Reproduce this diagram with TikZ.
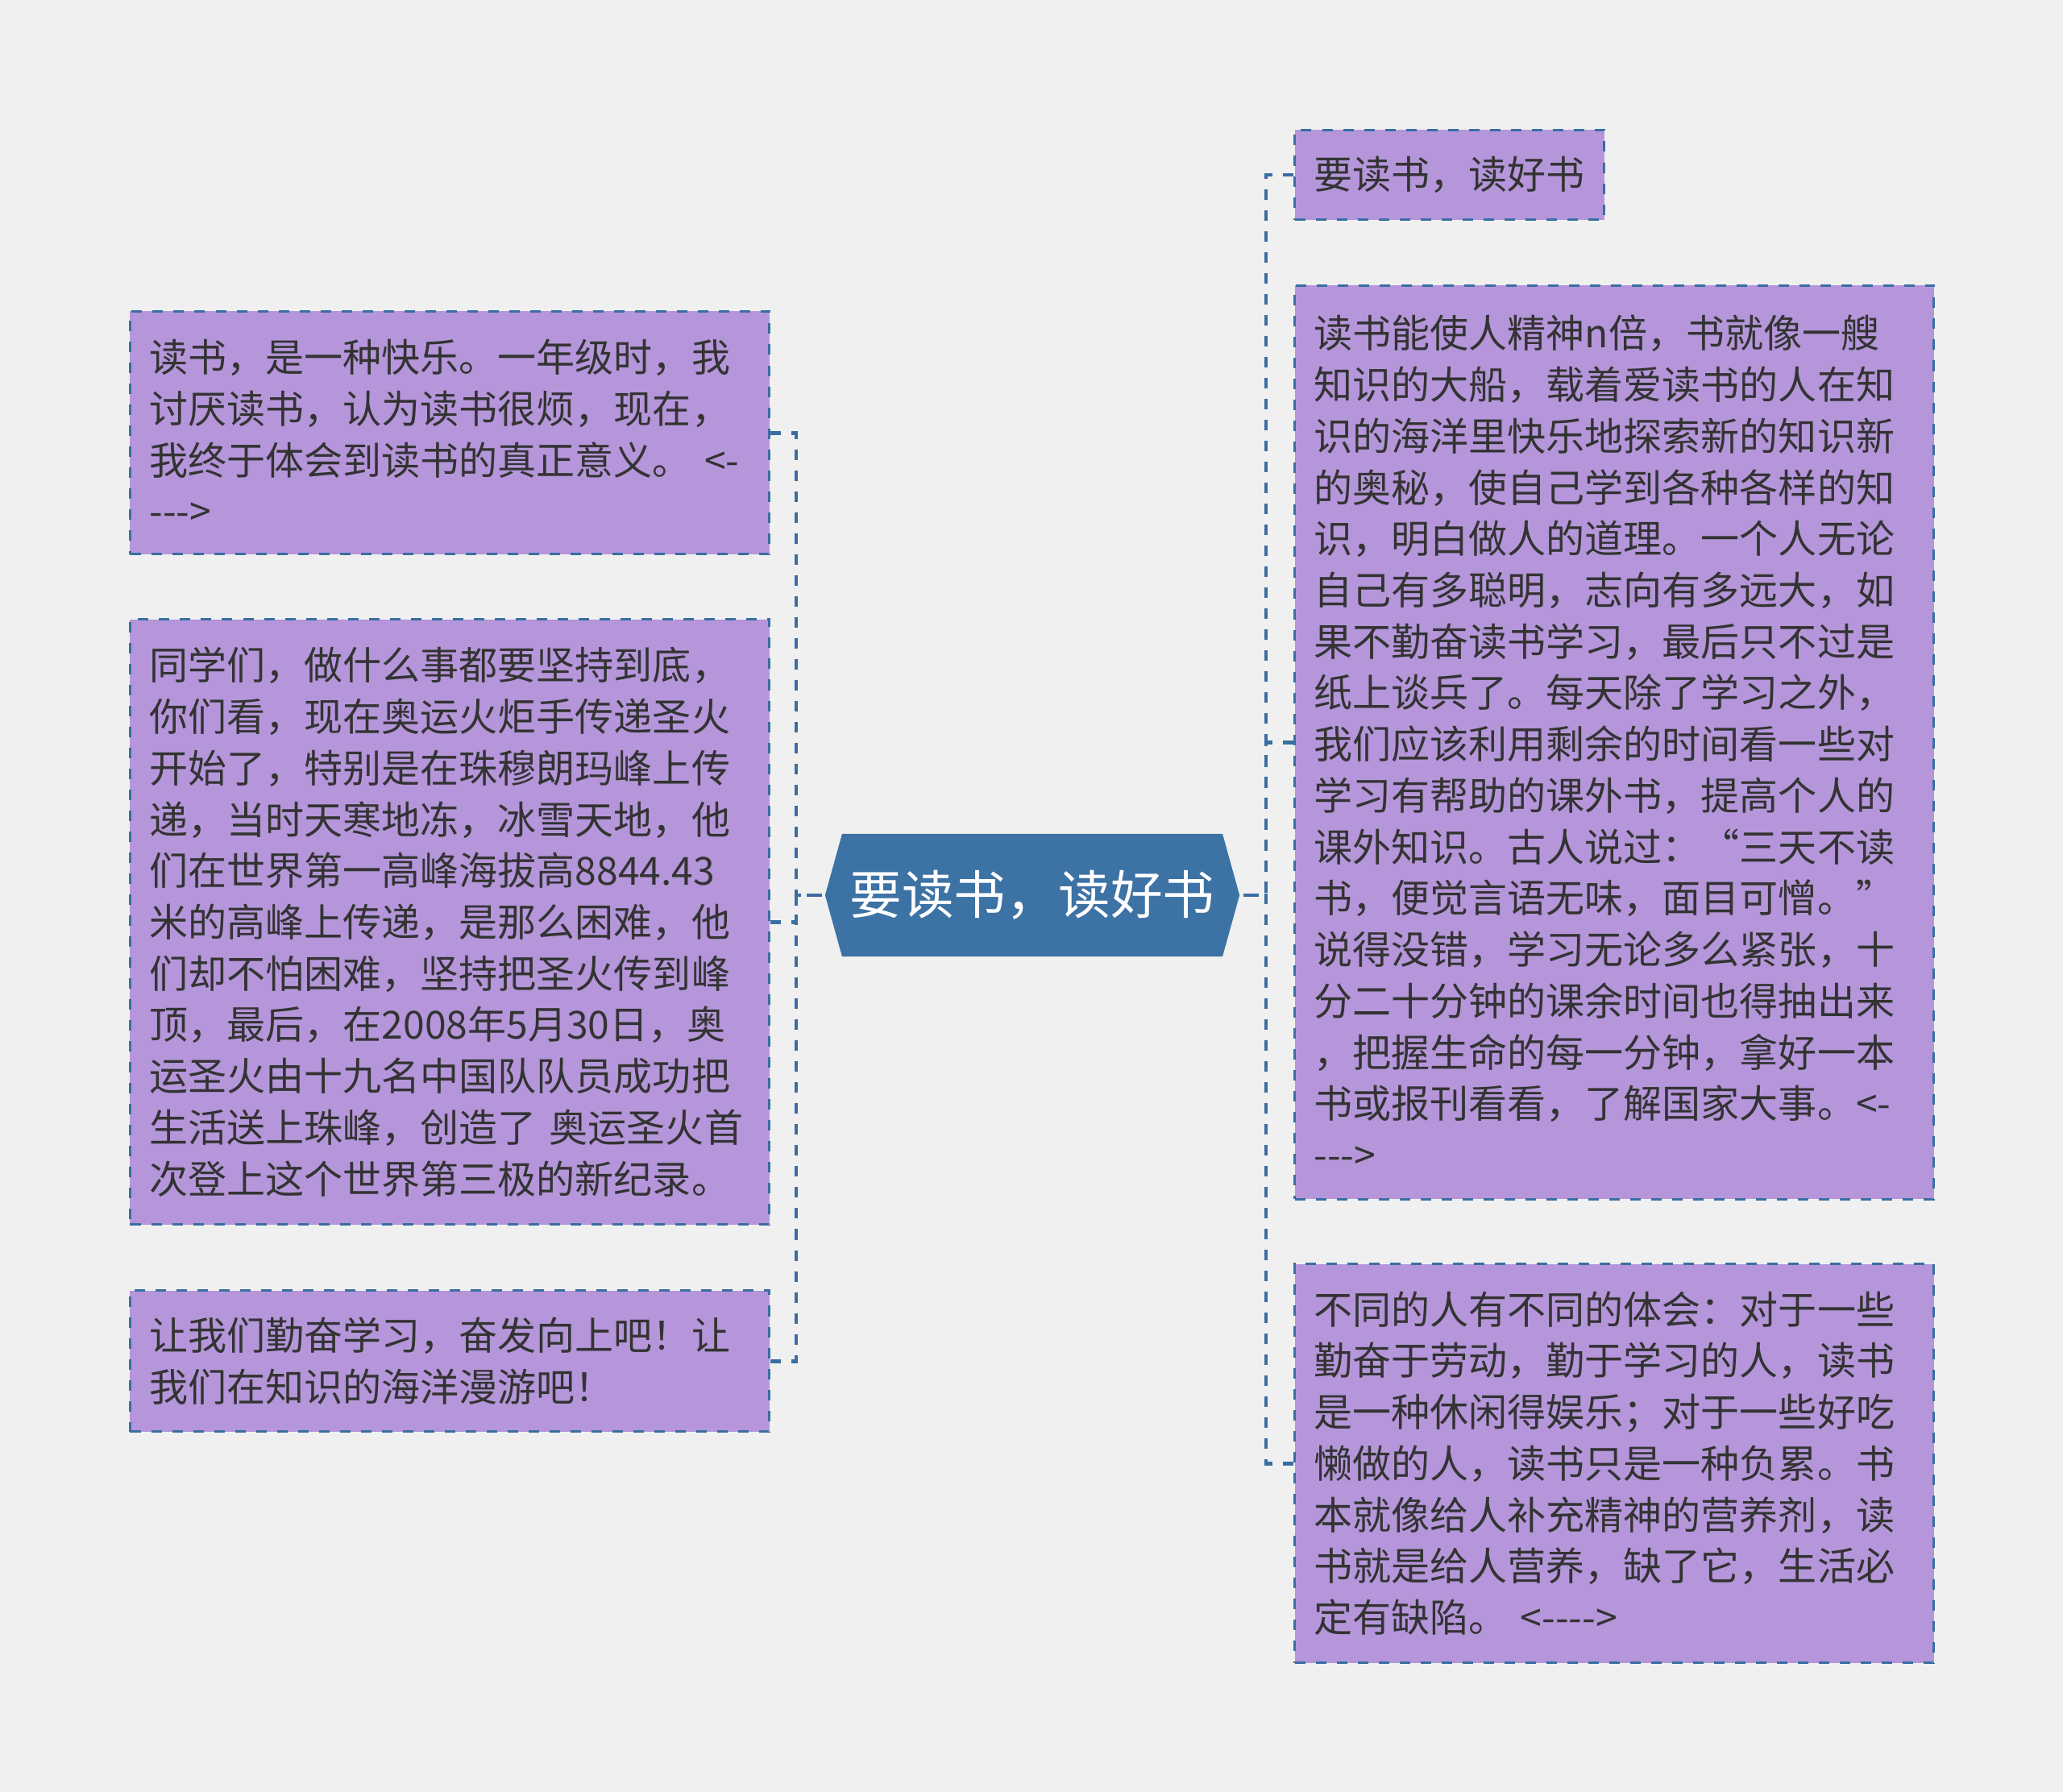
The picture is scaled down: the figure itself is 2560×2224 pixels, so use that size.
\documentclass[tikz,border=0pt]{standalone}
\usepackage{fontspec}
\setmainfont{Noto Sans CJK SC}[Ligatures=TeXOff]
\usetikzlibrary{shapes.symbols}
\definecolor{boxfill}{HTML}{B596DA}
\definecolor{boxline}{HTML}{3A6EA2}
\definecolor{rootfill}{HTML}{3D72A5}
\definecolor{inktext}{HTML}{333333}
\definecolor{paper}{HTML}{F0F0F0}

\begin{document}
\begin{tikzpicture}[x=0.01cm,y=-0.01cm,
		box/.style={draw=boxline,fill=boxfill,text=inktext,line width=0.85pt,
			dash pattern=on 0.13cm off 0.13cm,anchor=north west,align=left,
			inner xsep=0.24cm,inner ysep=0pt,text width=7.45cm,
			font=\fontsize{13.66pt}{18.12pt}\selectfont},
		rootbox/.style={signal,signal to=west and east,signal pointer angle=149,
			fill=rootfill,text=white,minimum width=5.14cm,minimum height=1.52cm,
			inner sep=0pt,font=\fontsize{18.4pt}{22pt}\selectfont},
		link/.style={draw=boxline,line width=1.4pt,dash pattern=on 0.13cm off 0.13cm}]
	\fill[paper] (0,0) rectangle (2560,2224);
	\useasboundingbox (0,0) rectangle (2560,2224);
	% centre
	\node [rootbox] (root) at (1281,1111) {要读书，读好书};
	% left side
	\node [box, minimum height=3.01cm] (left1) at (160,385) {读书，是一种快乐。一年级时，我\\讨厌读书，认为读书很烦，现在，\\我终于体会到读书的真正意义。 <-\\--->};
	\node [box, minimum height=7.51cm] (left2) at (160,767) {同学们，做什么事都要坚持到底，\\你们看，现在奥运火炬手传递圣火\\开始了，特别是在珠穆朗玛峰上传\\递，当时天寒地冻，冰雪天地，他\\们在世界第一高峰海拔高8844.43\\米的高峰上传递，是那么困难，他\\们却不怕困难，坚持把圣火传到峰\\顶，最后，在2008年5月30日，奥\\运圣火由十九名中国队队员成功把\\生活送上珠峰，创造了 奥运圣火首\\次登上这个世界第三极的新纪录。};
	\node [box, minimum height=1.75cm] (left3) at (160,1600) {让我们勤奋学习，奋发向上吧！让\\我们在知识的海洋漫游吧！};
	% right side
	\node [box, minimum height=1.11cm, text width=3.36cm] (right1) at (1605,160) {要读书，读好书};
	\node [box, minimum height=11.33cm] (right2) at (1605,353) {读书能使人精神n倍，书就像一艘\\知识的大船，载着爱读书的人在知\\识的海洋里快乐地探索新的知识新\\的奥秘，使自己学到各种各样的知\\识，明白做人的道理。一个人无论\\自己有多聪明，志向有多远大，如\\果不勤奋读书学习，最后只不过是\\纸上谈兵了。每天除了学习之外，\\我们应该利用剩余的时间看一些对\\学习有帮助的课外书，提高个人的\\课外知识。古人说过：“三天不读\\书，便觉言语无味，面目可憎。”\\说得没错，学习无论多么紧张，十\\分二十分钟的课余时间也得抽出来\\，把握生命的每一分钟，拿好一本\\书或报刊看看，了解国家大事。<-\\--->};
	\node [box, minimum height=4.95cm] (right3) at (1605,1567) {不同的人有不同的体会：对于一些\\勤奋于劳动，勤于学习的人，读书\\是一种休闲得娱乐；对于一些好吃\\懒做的人，读书只是一种负累。书\\本就像给人补充精神的营养剂，读\\书就是给人营养，缺了它，生活必\\定有缺陷。 <---->};
	% connectors
	\coordinate (lspine) at (988,1111);
	\coordinate (rspine) at (1571,1111);
	\foreach \leaf in {left1,left2,left3}
		\draw[link] (\leaf.east) -| (lspine) -- (root.west);
	\foreach \leaf in {right1,right2,right3}
		\draw[link] (\leaf.west) -| (rspine) -- (root.east);
\end{tikzpicture}
\end{document}
